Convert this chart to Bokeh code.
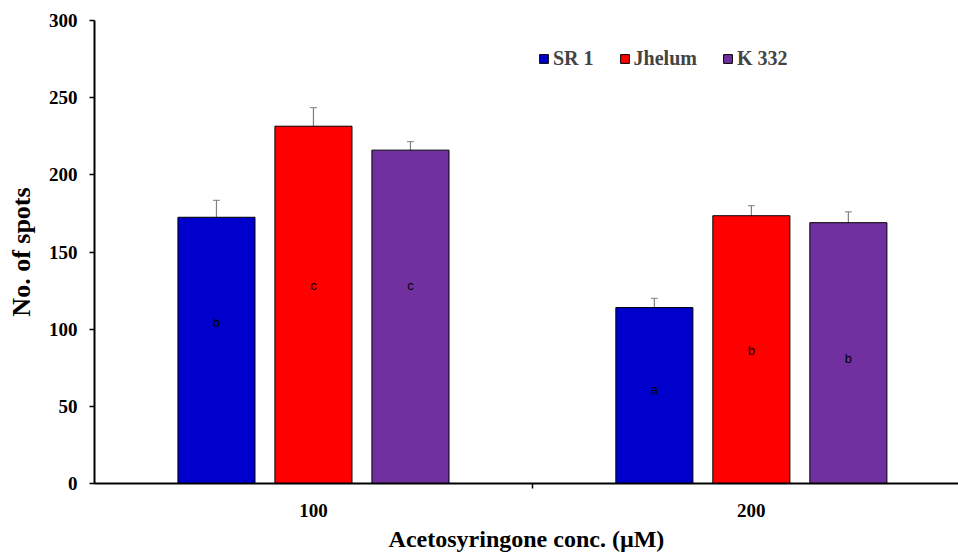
from bokeh.plotting import figure
from bokeh.models import ColumnDataSource, FixedTicker, Whisker, Legend, LegendItem, Range1d
from bokeh.core.properties import value
from bokeh.embed import file_html
from bokeh.resources import INLINE

# ---- data ----
concentrations = ["100", "200"]
varieties = ["SR 1", "Jhelum", "K 332"]
colors = ["#0000CC", "#FF0000", "#7030A0"]
means = {
    "SR 1":   [172.5, 114.0],
    "Jhelum": [231.5, 173.5],
    "K 332":  [216.0, 169.0],
}
errors = {
    "SR 1":   [11.0, 6.0],
    "Jhelum": [12.0, 6.5],
    "K 332":  [5.5, 7.0],
}
letters = {
    "SR 1":   ["b", "a"],
    "Jhelum": ["c", "b"],
    "K 332":  ["c", "b"],
}
letter_y = {
    "SR 1":   [104, 61],
    "Jhelum": [128, 86],
    "K 332":  [128, 81],
}
y_ticks = [0, 50, 100, 150, 200, 250, 300]

FONT = "Liberation Serif"

p = figure(width=958, height=554, output_backend="svg", toolbar_location=None,
           x_range=Range1d(0, 1.973), y_range=Range1d(0, 300),
           min_border_left=94, min_border_top=20, min_border_bottom=69, min_border_right=0)
p.grid.visible = False
p.outline_line_color = None
p.background_fill_color = "white"

offsets = [-0.2215, 0.0, 0.2215]
bar_w = 0.176
legend_items = []
for i, v in enumerate(varieties):
    xs = [0.5 + k + offsets[i] for k in range(len(concentrations))]
    src = ColumnDataSource(dict(
        x=xs, top=means[v],
        upper=[m + e for m, e in zip(means[v], errors[v])],
        lower=[m - e for m, e in zip(means[v], errors[v])],
        lab=letters[v], ly=letter_y[v],
    ))
    r = p.vbar(x="x", top="top", width=bar_w, source=src, fill_color=colors[i],
               line_color="black", line_width=1)
    legend_items.append(LegendItem(label=v, renderers=[r]))
    w = Whisker(base="x", upper="upper", lower="lower", source=src,
                line_color="#7f7f7f", line_width=1.2)
    w.upper_head.size = 7
    w.lower_head.size = 7
    w.upper_head.line_color = "#7f7f7f"
    w.lower_head.line_color = "#7f7f7f"
    p.add_layout(w)
    p.text(x="x", y="ly", text="lab", source=src, text_align="center",
           text_baseline="middle", text_font=value("Liberation Sans"),
           text_font_size="13px", text_color="black")

legend = Legend(items=legend_items, orientation="horizontal", location=(444, 413),
                label_text_font=FONT, label_text_font_style="bold",
                label_text_font_size="20px", glyph_width=11, glyph_height=11,
                spacing=25, label_standoff=4, background_fill_alpha=0,
                border_line_color=None, padding=0, margin=0)
p.add_layout(legend, "center")

# y axis
p.yaxis.ticker = FixedTicker(ticks=y_ticks)
p.yaxis.axis_label = "No. of spots"
p.yaxis.axis_label_text_font = FONT
p.yaxis.axis_label_text_font_style = "bold"
p.yaxis.axis_label_text_font_size = "26px"
p.yaxis.axis_label_text_color = "black"
p.yaxis.axis_label_standoff = 10
p.yaxis.major_label_text_font = FONT
p.yaxis.major_label_text_font_style = "bold"
p.yaxis.major_label_text_font_size = "19px"
p.yaxis.major_label_text_color = "black"
p.yaxis.major_tick_out = 5
p.yaxis.major_tick_in = 0
p.yaxis.minor_tick_line_color = None
p.yaxis.axis_line_width = 2
p.yaxis.major_tick_line_width = 1.5
p.yaxis.major_label_standoff = 12

# x axis
p.xaxis.ticker = FixedTicker(ticks=[0.5, 1.5], minor_ticks=[1.0])
p.xaxis.major_label_overrides = {0.5: concentrations[0], 1.5: concentrations[1]}
p.xaxis.axis_label = "Acetosyringone conc. (µM)"
p.xaxis.axis_label_text_font = FONT
p.xaxis.axis_label_text_font_style = "bold"
p.xaxis.axis_label_text_font_size = "24px"
p.xaxis.axis_label_text_color = "black"
p.xaxis.axis_label_standoff = 6
p.xaxis.major_label_text_font = FONT
p.xaxis.major_label_text_font_style = "bold"
p.xaxis.major_label_text_font_size = "19px"
p.xaxis.major_label_text_color = "black"
p.xaxis.major_tick_line_color = None
p.xaxis.major_label_standoff = 14
p.xaxis.minor_tick_out = 5
p.xaxis.minor_tick_in = 0
p.xaxis.minor_tick_line_width = 1.5
p.xaxis.axis_line_width = 2

open("out.html", "w").write(file_html(p, INLINE))
